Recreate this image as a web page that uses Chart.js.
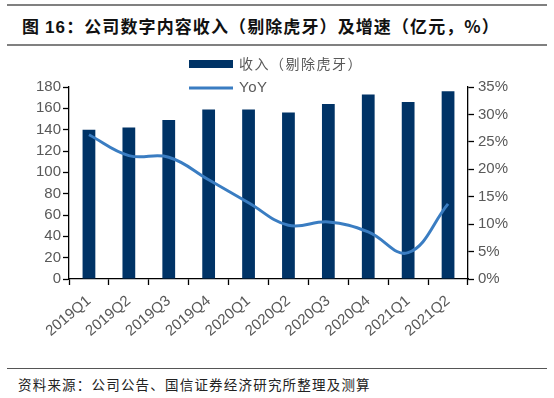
<!DOCTYPE html>
<html lang="zh-CN">
<head>
<meta charset="UTF-8">
<title>公司数字内容收入（剔除虎牙）及增速</title>
<script src="https://cdn.jsdelivr.net/npm/chart.js"></script>
<style>
    html, body { margin: 0; padding: 0; background: #fff; }
    body { width: 554px; height: 398px; position: relative; overflow: hidden;
           font-family: "Noto Sans CJK SC", sans-serif; }
    .title { position: absolute; left: 7px; width: 540px; top: 4px; height: 38px;
             border-top: 2px solid #808080; border-bottom: 2px solid #808080; }
    .title span.t { position: absolute; left: 15px; top: 7px; font-size: 17px; font-weight: bold;
                    color: #111; letter-spacing: 1.1px; white-space: nowrap; }
    .title b { font-family: "Liberation Sans", Arial, sans-serif; }
    .chart-box { position: absolute; left: 0; top: 45px; width: 554px; height: 320px; }
    .source { position: absolute; left: 7px; width: 540px; top: 368px;
              border-top: 1.5px solid #555; }
    .source span { position: absolute; left: 11px; top: 5px; font-size: 13.5px; color: #222;
                   white-space: nowrap; letter-spacing: 1.2px; }
</style>
</head>
<body>
<div class="title"><span class="t">图 <b>16</b>：公司数字内容收入（剔除虎牙）及增速（亿元，%）</span></div>
<div class="chart-box"><canvas id="revChart" width="554" height="320"></canvas></div>
<div class="source"><span>资料来源：公司公告、国信证券经济研究所整理及测算</span></div>

<script>
    // 数据
    const quarters = ['2019Q1', '2019Q2', '2019Q3', '2019Q4', '2020Q1', '2020Q2', '2020Q3', '2020Q4', '2021Q1', '2021Q2'];
    const revenue = [140, 142, 149, 159, 159, 156, 164, 173, 166, 176]; // 亿元
    const yoy = [26.3, 22.5, 22.2, 18.1, 13.9, 9.8, 10.4, 8.6, 4.8, 13.7]; // %
    const leftTicks = { min: 0, max: 180, step: 20 };
    const rightTicks = { min: 0, max: 35, step: 5 };

    const tickFont = { family: '"Liberation Sans", Arial, sans-serif', size: 15 };
    const tickColor = '#595959';

    // 自定义图例：竖向排列，放在图表上方
    const stackedLegend = {
        id: 'stackedLegend',
        afterDraw(chart) {
            const ctx = chart.ctx;
            const x = 189, w = 44;
            const rows = [19, 43];
            ctx.save();
            ctx.textBaseline = 'middle';
            chart.data.datasets.forEach((ds, i) => {
                const y = rows[i];
                if (ds.type === 'line') {
                    ctx.strokeStyle = ds.borderColor;
                    ctx.lineWidth = ds.borderWidth;
                    ctx.beginPath();
                    ctx.moveTo(x, y);
                    ctx.lineTo(x + w, y);
                    ctx.stroke();
                    ctx.font = '15px "Liberation Sans", Arial, sans-serif';
                    ctx.letterSpacing = '0.5px';
                } else {
                    ctx.fillStyle = ds.backgroundColor;
                    ctx.fillRect(x, y - 4, w, 8);
                    ctx.font = '14px "Noto Sans CJK SC", sans-serif';
                    ctx.letterSpacing = '1.5px';
                }
                ctx.fillStyle = tickColor;
                ctx.fillText(ds.label, x + w + 6, y);
            });
            ctx.restore();
        }
    };

    new Chart(document.getElementById('revChart'), {
        data: {
            labels: quarters,
            datasets: [{
                type: 'bar',
                label: '收入（剔除虎牙）',
                data: revenue,
                backgroundColor: '#003366',
                barPercentage: 0.32,
                categoryPercentage: 1,
                yAxisID: 'y',
                order: 1
            }, {
                type: 'line',
                label: 'YoY',
                data: yoy,
                borderColor: '#3a7dc2',
                borderWidth: 3,
                pointRadius: 0,
                tension: 0.4,
                yAxisID: 'y1',
                order: 0
            }]
        },
        options: {
            responsive: false,
            animation: false,
            layout: { padding: { top: 42, left: 0, right: 0, bottom: 0 } },
            plugins: {
                legend: { display: false },
                tooltip: { enabled: false }
            },
            scales: {
                x: {
                    offset: true,
                    grid: { display: true, offset: true, drawOnChartArea: false, tickLength: 6, tickColor: '#000', tickWidth: 1.3 },
                    border: { color: '#000', width: 1.3 },
                    ticks: { color: tickColor, font: tickFont, minRotation: 40, maxRotation: 40, autoSkip: false, padding: 7 },
                    afterFit(axis) { axis.height = 86; }
                },
                y: {
                    position: 'left',
                    min: leftTicks.min,
                    max: leftTicks.max,
                    grid: { drawOnChartArea: false, tickLength: 6, tickColor: '#000', tickWidth: 1.3 },
                    border: { color: '#000', width: 1.3 },
                    ticks: { stepSize: leftTicks.step, color: tickColor, font: tickFont, padding: 2 },
                    afterFit(axis) { axis.width = 69; }
                },
                y1: {
                    position: 'right',
                    min: rightTicks.min,
                    max: rightTicks.max,
                    grid: { drawOnChartArea: false, tickLength: 6, tickColor: '#000', tickWidth: 1.3 },
                    border: { color: '#000', width: 1.3 },
                    ticks: { stepSize: rightTicks.step, color: tickColor, font: tickFont, padding: 4,
                             callback: v => v + '%' },
                    afterFit(axis) { axis.width = 86; }
                }
            }
        },
        plugins: [stackedLegend]
    });
</script>
</body>
</html>
